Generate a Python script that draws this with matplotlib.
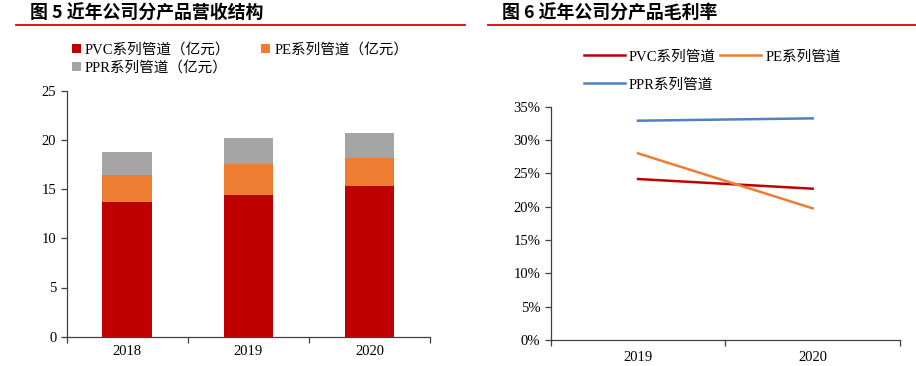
import matplotlib
matplotlib.use("Agg")
import matplotlib.pyplot as plt
from matplotlib.lines import Line2D
import numpy as np

plt.rcParams['font.family'] = ['Liberation Serif', 'Noto Sans CJK SC']

# ---- data ----
years_rev = ['2018', '2019', '2020']
pvc_rev = [13.66, 14.40, 15.35]
pe_rev = [2.74, 3.18, 2.81]
ppr_rev = [2.40, 2.58, 2.57]

years_gm = ['2019', '2020']
pvc_gm = [24.15, 22.70]
pe_gm = [28.00, 19.75]
ppr_gm = [32.90, 33.25]

title_left = '图 5 近年公司分产品营收结构'
title_right = '图 6 近年公司分产品毛利率'
labels_rev = ['PVC系列管道（亿元）', 'PE系列管道（亿元）', 'PPR系列管道（亿元）']
labels_gm = ['PVC系列管道', 'PE系列管道', 'PPR系列管道']

c_pvc, c_pe, c_ppr = '#C00000', '#ED7D31', '#A5A5A5'
c_blue = '#4F81BD'
spine_c = '#404040'

fig = plt.figure(figsize=(9.16, 3.66), dpi=100)

# titles and red rules
title_font = ['Noto Sans CJK SC']
fig.text(30/916, 1-14/366, title_left, fontsize=12.9, fontweight='bold',
         family=title_font, va='center', ha='left')
fig.text(502/916, 1-14/366, title_right, fontsize=12.9, fontweight='bold',
         family=title_font, va='center', ha='left')
fig.add_artist(Line2D([16/916, 465/916], [1-25/366]*2, color='#E00000', lw=1.3))
fig.add_artist(Line2D([488/916, 1.0], [1-25/366]*2, color='#E00000', lw=1.3))

def style(ax):
    for s in ['top', 'right']:
        ax.spines[s].set_visible(False)
    for s in ['left', 'bottom']:
        ax.spines[s].set_color(spine_c)
        ax.spines[s].set_linewidth(0.9)
    ax.tick_params(axis='both', colors=spine_c, labelcolor='black', labelsize=10.5,
                   direction='out', length=4, width=0.9)

# ---- left: stacked bars ----
ax1 = fig.add_axes([66.7/916, 1-336.7/366, (430-66.7)/916, (336.7-90.7)/366])
x = np.arange(len(years_rev))
w = 0.41
pvc = np.array(pvc_rev); pe = np.array(pe_rev); ppr = np.array(ppr_rev)
b1 = ax1.bar(x, pvc, w, color=c_pvc, label=labels_rev[0])
b2 = ax1.bar(x, pe, w, bottom=pvc, color=c_pe, label=labels_rev[1])
b3 = ax1.bar(x, ppr, w, bottom=pvc+pe, color=c_ppr, label=labels_rev[2])
ax1.set_xlim(-0.5, len(years_rev)-0.5)
ax1.set_ylim(0, 25)
ax1.set_yticks([0, 5, 10, 15, 20, 25])
ax1.set_xticks(np.arange(len(years_rev)+1)-0.5)
ax1.set_xticklabels([])
ax1.set_xticks(x, minor=True)
ax1.set_xticklabels(years_rev, minor=True)
style(ax1)
ax1.tick_params(axis='x', which='minor', length=0, pad=6, labelsize=10.5)
ax1.legend([b1, b3, b2], [labels_rev[0], labels_rev[2], labels_rev[1]],
           loc='upper left', bbox_to_anchor=(66/916, 1-37/366), bbox_transform=fig.transFigure,
           ncol=2, frameon=False, fontsize=10.5, handlelength=0.6, handleheight=0.6,
           handletextpad=0.3, columnspacing=2.1, labelspacing=0.3, borderaxespad=0)

# ---- right: lines ----
ax2 = fig.add_axes([550.7/916, 1-340/366, (900-550.7)/916, (340-106.7)/366])
xg = np.arange(len(years_gm))
l1, = ax2.plot(xg, pvc_gm, color=c_pvc, lw=1.8, label=labels_gm[0])
l2, = ax2.plot(xg, pe_gm, color=c_pe, lw=1.8, label=labels_gm[1])
l3, = ax2.plot(xg, ppr_gm, color=c_blue, lw=1.8, label=labels_gm[2])
ax2.set_xlim(-0.5, len(years_gm)-0.5)
ax2.set_ylim(0, 35)
ax2.set_yticks(np.arange(0, 36, 5))
ax2.set_yticklabels([f'{v}%' for v in range(0, 36, 5)])
ax2.set_xticks(np.arange(len(years_gm)+1)-0.5)
ax2.set_xticklabels([])
ax2.set_xticks(xg, minor=True)
ax2.set_xticklabels(years_gm, minor=True)
style(ax2)
ax2.tick_params(axis='x', which='minor', length=0, pad=8, labelsize=10.5)
ax2.legend([l1, l3, l2], [labels_gm[0], labels_gm[2], labels_gm[1]],
           loc='upper left', bbox_to_anchor=(578/916, 1-44/366), bbox_transform=fig.transFigure,
           ncol=2, frameon=False, fontsize=10.5, handlelength=2.8,
           handletextpad=0.3, columnspacing=0.3, labelspacing=1.0, borderaxespad=0)

fig.savefig('out.png', dpi=100)
